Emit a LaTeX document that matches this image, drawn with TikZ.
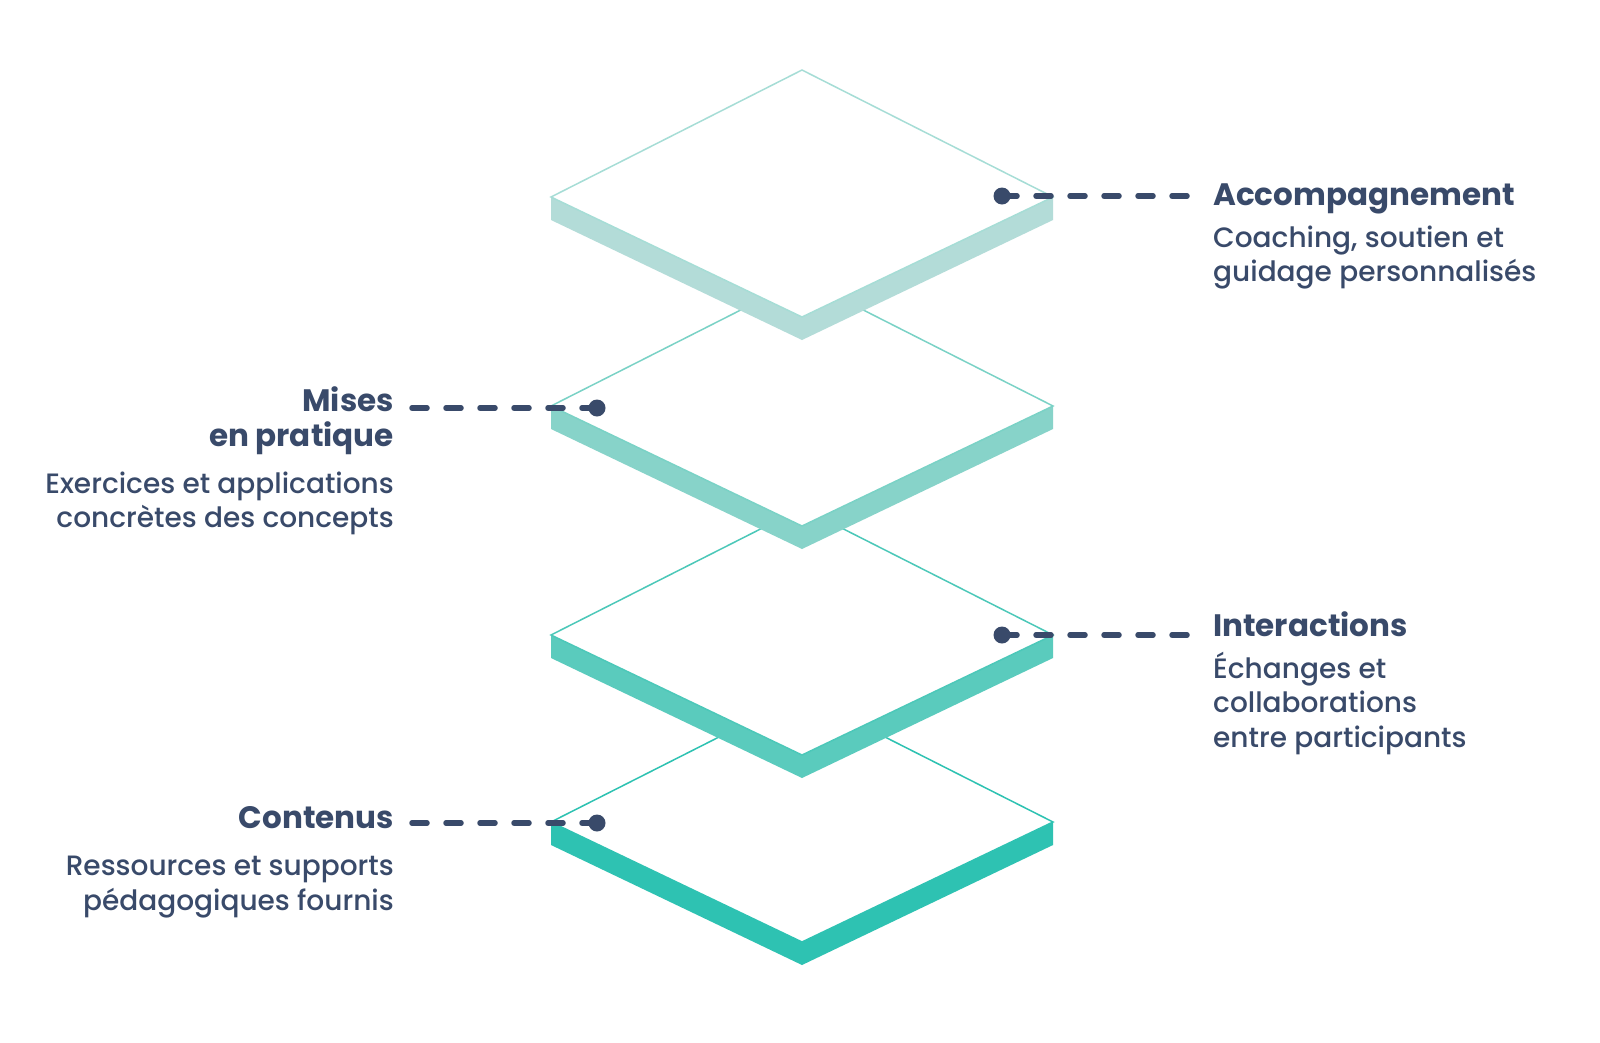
\documentclass[tikz,border=0pt]{standalone}
\usepackage{fontspec}
\setmainfont{Poppins}[UprightFont=* Medium, BoldFont=* Bold]
\definecolor{ink}{HTML}{394A6A}
\definecolor{pA}{HTML}{B3DCD8}
\definecolor{pAl}{HTML}{A6DDD6}
\definecolor{pB}{HTML}{87D3C9}
\definecolor{pBl}{HTML}{7AD2C6}
\definecolor{pC}{HTML}{5ACBBD}
\definecolor{pCl}{HTML}{4CC8B9}
\definecolor{pD}{HTML}{2EC2B2}
\definecolor{pDl}{HTML}{2EC2B2}
\newcommand{\slabplate}[3]{%
  \fill[#2] (551,#1) -- (802,{#1+120}) -- (1053,#1) -- (1053,{#1+23}) -- (802,{#1+143}) -- (551,{#1+23}) -- cycle;
  \filldraw[fill=white, draw=#3, line width=1.5pt, line join=miter]
    (551,#1) -- (802,{#1-127}) -- (1053,#1) -- (802,{#1+120}) -- cycle;
}
\tikzset{
  ttl/.style={font=\fontsize{31}{40}\selectfont\bfseries, text=ink, inner sep=0pt},
  bdy/.style={font=\fontsize{28}{34}\selectfont, text=ink, inner sep=0pt},
  dot/.style={circle, fill=ink, inner sep=0pt, minimum size=17pt},
  leader/.style={draw=ink, line width=5.5pt, line cap=round, dash pattern=on 15pt off 19pt},
}
\begin{document}
\begin{tikzpicture}[x=1pt,y=-1pt]
\useasboundingbox (0,0) rectangle (1600,1042);
\fill[white] (0,0) rectangle (1600,1042);
% plates, bottom to top
\slabplate{822}{pD}{pDl}
\slabplate{635}{pC}{pCl}
\slabplate{406}{pB}{pBl}
\slabplate{197}{pA}{pAl}
% dots and leader ends
\node[dot] (d1) at (1002,196) {};
\node[dot] (d2) at (597,408) {};
\node[dot] (d3) at (1002,635) {};
\node[dot] (d4) at (597,823) {};
\coordinate (e1) at (1187,196);
\coordinate (e2) at (410,408);
\coordinate (e3) at (1187,635);
\coordinate (e4) at (410,823);
\draw[leader] (d1.center) -- (e1);
\draw[leader] (d2.center) -- (e2);
\draw[leader] (d3.center) -- (e3);
\draw[leader] (d4.center) -- (e4);
% right texts
\node[ttl, anchor=base west] (t1) at (1213,205) {Accompagnement};
\node[bdy, anchor=base west] (t1a) at (1213,247) {Coaching, soutien et};
\node[bdy, anchor=base west] (t1b) at (1213,281.5) {guidage personnalisés};
\node[ttl, anchor=base west] (t3) at (1213,636.5) {Interactions};
\node[bdy, anchor=base west] (t3a) at (1213,678) {Échanges et};
\node[bdy, anchor=base west] (t3b) at (1213,712.5) {collaborations};
\node[bdy, anchor=base west] (t3c) at (1213,747) {entre participants};
% left texts
\node[ttl, anchor=base east] (t2) at (394,411) {Mises};
\node[ttl, anchor=base east] (t2x) at (394,446) {en pratique};
\node[bdy, anchor=base east] (t2a) at (394,493) {Exercices et applications};
\node[bdy, anchor=base east] (t2b) at (394,527.5) {concrètes des concepts};
\node[ttl, anchor=base east] (t4) at (394,828.5) {Contenus};
\node[bdy, anchor=base east] (t4a) at (394,875.5) {Ressources et supports};
\node[bdy, anchor=base east] (t4b) at (394,910) {pédagogiques fournis};
\end{tikzpicture}
\end{document}
